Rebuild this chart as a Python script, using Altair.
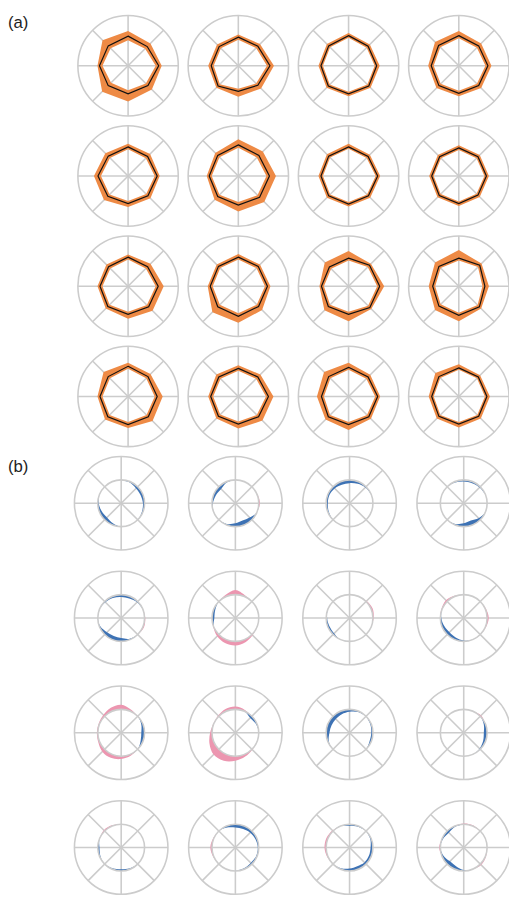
import altair as alt
import numpy as np
import pandas as pd

# ---------------- data ----------------
# (a) 16 radar panels; 8 directions clockwise from north; fraction of outer radius
A_MEAN = [
    [0.59, 0.54, 0.61, 0.56, 0.56, 0.56, 0.57, 0.56],
    [0.57, 0.55, 0.63, 0.55, 0.51, 0.57, 0.54, 0.54],
    [0.60, 0.55, 0.56, 0.57, 0.56, 0.57, 0.55, 0.56],
    [0.60, 0.56, 0.58, 0.56, 0.55, 0.56, 0.55, 0.57],
    [0.58, 0.55, 0.58, 0.56, 0.55, 0.57, 0.60, 0.56],
    [0.62, 0.58, 0.62, 0.60, 0.58, 0.58, 0.58, 0.58],
    [0.58, 0.55, 0.58, 0.56, 0.56, 0.56, 0.55, 0.56],
    [0.56, 0.54, 0.55, 0.54, 0.55, 0.55, 0.54, 0.54],
    [0.58, 0.55, 0.60, 0.58, 0.56, 0.57, 0.56, 0.55],
    [0.58, 0.56, 0.58, 0.57, 0.60, 0.58, 0.56, 0.56],
    [0.56, 0.59, 0.62, 0.60, 0.56, 0.57, 0.54, 0.54],
    [0.56, 0.59, 0.52, 0.58, 0.58, 0.56, 0.52, 0.56],
    [0.60, 0.56, 0.58, 0.57, 0.56, 0.57, 0.56, 0.56],
    [0.56, 0.55, 0.60, 0.57, 0.55, 0.56, 0.55, 0.55],
    [0.58, 0.55, 0.58, 0.57, 0.56, 0.57, 0.54, 0.56],
    [0.57, 0.55, 0.56, 0.56, 0.55, 0.56, 0.54, 0.56],
]
A_LO = [
    [0.51, 0.48, 0.55, 0.50, 0.49, 0.48, 0.51, 0.49],
    [0.52, 0.50, 0.57, 0.50, 0.46, 0.52, 0.49, 0.49],
    [0.56, 0.51, 0.52, 0.53, 0.52, 0.53, 0.51, 0.52],
    [0.55, 0.51, 0.53, 0.51, 0.50, 0.51, 0.50, 0.52],
    [0.53, 0.50, 0.53, 0.51, 0.50, 0.52, 0.54, 0.51],
    [0.56, 0.52, 0.56, 0.54, 0.52, 0.53, 0.53, 0.53],
    [0.54, 0.51, 0.54, 0.52, 0.52, 0.52, 0.51, 0.52],
    [0.52, 0.50, 0.51, 0.50, 0.51, 0.51, 0.50, 0.50],
    [0.53, 0.50, 0.55, 0.53, 0.51, 0.52, 0.51, 0.50],
    [0.53, 0.51, 0.53, 0.52, 0.54, 0.52, 0.51, 0.51],
    [0.51, 0.54, 0.57, 0.55, 0.51, 0.52, 0.49, 0.49],
    [0.51, 0.54, 0.47, 0.53, 0.53, 0.51, 0.47, 0.51],
    [0.55, 0.51, 0.53, 0.52, 0.51, 0.52, 0.51, 0.51],
    [0.51, 0.50, 0.55, 0.52, 0.50, 0.51, 0.50, 0.50],
    [0.53, 0.50, 0.53, 0.52, 0.51, 0.52, 0.49, 0.51],
    [0.53, 0.51, 0.52, 0.52, 0.51, 0.52, 0.50, 0.52],
]
A_HI = [
    [0.69, 0.63, 0.67, 0.67, 0.71, 0.73, 0.61, 0.72],
    [0.62, 0.61, 0.71, 0.64, 0.62, 0.62, 0.60, 0.60],
    [0.65, 0.60, 0.62, 0.62, 0.61, 0.62, 0.60, 0.61],
    [0.69, 0.63, 0.65, 0.63, 0.61, 0.63, 0.61, 0.67],
    [0.64, 0.62, 0.63, 0.63, 0.62, 0.68, 0.68, 0.64],
    [0.73, 0.69, 0.75, 0.73, 0.71, 0.67, 0.63, 0.65],
    [0.64, 0.60, 0.63, 0.61, 0.61, 0.61, 0.60, 0.61],
    [0.61, 0.59, 0.60, 0.59, 0.60, 0.60, 0.59, 0.59],
    [0.63, 0.63, 0.71, 0.69, 0.65, 0.63, 0.61, 0.61],
    [0.64, 0.61, 0.64, 0.67, 0.73, 0.73, 0.61, 0.61],
    [0.70, 0.63, 0.71, 0.64, 0.70, 0.68, 0.58, 0.67],
    [0.72, 0.64, 0.60, 0.63, 0.70, 0.67, 0.60, 0.67],
    [0.67, 0.63, 0.69, 0.69, 0.63, 0.65, 0.61, 0.69],
    [0.62, 0.62, 0.70, 0.68, 0.64, 0.62, 0.60, 0.62],
    [0.67, 0.61, 0.63, 0.63, 0.67, 0.65, 0.63, 0.69],
    [0.64, 0.60, 0.62, 0.62, 0.62, 0.62, 0.60, 0.66],
]
# (b) 16 panels; deviation from the reference circle (0.5 of outer radius)
# at 16 directions clockwise from north (positive = pink, negative = blue)
B_DEV = [
    [0, -0.02, -0.05, -0.05, -0.035, -0.02, 0, 0, 0, -0.035, -0.07, -0.05, -0.02, 0, 0, 0],
    [0, 0, 0, 0.01, 0.025, 0, -0.07, -0.10, -0.07, -0.02, 0, 0, -0.02, -0.05, -0.07, -0.02],
    [-0.07, -0.05, -0.02, 0, 0, 0, 0, 0, 0, 0, 0, -0.02, -0.035, -0.035, -0.05, -0.07],
    [-0.035, -0.035, -0.02, 0, 0, 0, -0.05, -0.10, -0.07, -0.02, 0, 0, 0, 0, 0, -0.02],
    [-0.05, -0.05, -0.02, 0, 0.015, 0.025, 0, -0.02, -0.07, -0.085, -0.07, -0.02, 0, 0, -0.02, -0.035],
    [0.10, 0.03, 0, 0, 0, 0, 0.02, 0.06, 0.09, 0.08, 0.05, 0.01, -0.05, -0.035, 0, 0.04],
    [0, 0, 0.015, 0.035, 0.015, 0, 0, 0, 0, 0, -0.035, -0.035, -0.02, 0, 0, 0],
    [0, 0, 0, 0.015, 0.035, 0.015, 0, 0, -0.02, -0.05, -0.07, -0.05, -0.02, 0.015, 0.035, 0.015],
    [0.10, 0.04, 0, -0.035, -0.07, -0.05, 0, 0.03, 0.06, 0.08, 0.07, 0.03, 0.02, 0.02, 0.04, 0.08],
    [0.06, 0.03, -0.05, -0.02, 0, 0, 0.01, 0.05, 0.10, 0.15, 0.16, 0.10, 0.04, 0.01, 0.02, 0.05],
    [-0.05, -0.02, 0, -0.02, -0.035, -0.035, 0, 0, 0, 0, 0, -0.02, -0.07, -0.085, -0.085, -0.07],
    [0, 0, 0.025, -0.035, -0.07, -0.05, -0.02, 0, 0, 0, 0, 0, 0, 0, 0, 0],
    [0, 0, 0, 0, 0, 0, 0, -0.02, -0.035, -0.02, 0, -0.02, -0.035, 0, 0.025, 0.015],
    [-0.07, -0.07, -0.05, -0.035, -0.02, -0.02, -0.035, -0.02, 0, 0, 0, 0.015, 0.035, 0.015, 0, -0.035],
    [-0.035, -0.02, 0, -0.02, -0.05, -0.05, -0.05, -0.07, -0.05, -0.02, 0, 0.02, 0.035, 0.035, 0.015, 0],
    [0.015, 0.015, 0, 0, 0, 0.015, 0.025, 0, -0.02, -0.07, -0.085, -0.035, 0.025, -0.02, -0.05, -0.02],
]
LABELS = ["(a)", "(b)"]

# ---------------- layout / style ----------------
W, H = 509, 897
RA, RB = 51.0, 47.5
A_X0, A_DX, A_Y0, A_DY = 122.0, 112.0, 51.5, 112.0
B_X0, B_DX, B_Y0, B_DY = 115.0, 116.0, 496.0, 116.6
GRID = "#cccccc"
ORANGE = "#ee8a45"
PINK = "#ec96b0"
BLUE = "#3d72b4"
GW = 1.6


def center(sec, k):
    r, c = divmod(k, 4)
    if sec == "a":
        return A_X0 + A_DX * c, A_Y0 + A_DY * r, RA
    return B_X0 + B_DX * c, B_Y0 + B_DY * r, RB


def polar(cx, cy, R, rad, ang):
    t = np.radians(ang)
    return cx + R * rad * np.sin(t), cy - R * rad * np.cos(t)


circ_rows, inner_rows, spoke_rows = [], [], []
for sec in ["a", "b"]:
    for k in range(16):
        cx, cy, R = center(sec, k)
        circ_rows.append({"x": cx, "y": cy, "s": (2 * R) ** 2})
        if sec == "b":
            inner_rows.append({"x": cx, "y": cy, "s": R ** 2})
        for d in range(8):
            x2, y2 = polar(cx, cy, R, 1.0, 45 * d)
            spoke_rows.append({"x": cx, "y": cy, "x2": x2, "y2": y2})
circ_df = pd.DataFrame(circ_rows)
inner_df = pd.DataFrame(inner_rows)
spoke_df = pd.DataFrame(spoke_rows)

band_rows, mean_rows = [], []
for k in range(16):
    cx, cy, R = center("a", k)
    i = 0
    for j in range(9):
        x, y = polar(cx, cy, R, A_HI[k][j % 8], 45 * j)
        band_rows.append({"p": k, "i": i, "x": x, "y": y}); i += 1
    for j in range(8, -1, -1):
        x, y = polar(cx, cy, R, A_LO[k][j % 8], 45 * j)
        band_rows.append({"p": k, "i": i, "x": x, "y": y}); i += 1
    for j in range(8):
        x, y = polar(cx, cy, R, A_MEAN[k][j], 45 * j)
        mean_rows.append({"p": k, "i": j, "x": x, "y": y})
band_df = pd.DataFrame(band_rows)
mean_df = pd.DataFrame(mean_rows)


def ring(sign):
    rows = []
    for k in range(16):
        cx, cy, R = center("b", k)
        dev = np.array(B_DEV[k], dtype=float)
        part = np.maximum(dev, 0) if sign > 0 else np.minimum(dev, 0)
        if not np.any(part != 0):
            continue
        zeros = np.where(part == 0)[0]
        s = int(zeros[0]) if len(zeros) else 0
        i = 0
        for j in range(17):
            idx = (s + j) % 16
            x, y = polar(cx, cy, R, 0.5 + part[idx], 22.5 * (s + j))
            rows.append({"p": k, "i": i, "x": x, "y": y}); i += 1
        for j in range(16, -1, -1):
            x, y = polar(cx, cy, R, 0.5, 22.5 * (s + j))
            rows.append({"p": k, "i": i, "x": x, "y": y}); i += 1
    return pd.DataFrame(rows)


pink_df = ring(1)
blue_df = ring(-1)
label_df = pd.DataFrame({"t": LABELS, "x": [0, 0], "y": [0, 451]})

xs = alt.Scale(domain=[0, W], nice=False, zero=False)
ys = alt.Scale(domain=[0, H], nice=False, zero=False, reverse=True)
X = alt.X("x:Q", scale=xs, axis=None)
Y = alt.Y("y:Q", scale=ys, axis=None)

circles = alt.Chart(circ_df).mark_point(
    shape="circle", filled=False, opacity=1, stroke=GRID, strokeWidth=GW
).encode(x=X, y=Y, size=alt.Size("s:Q", scale=None, legend=None))
spokes = alt.Chart(spoke_df).mark_rule(stroke=GRID, strokeWidth=GW).encode(
    x=X, y=Y, x2="x2:Q", y2="y2:Q"
)
bands = alt.Chart(band_df).mark_line(
    fill=ORANGE, strokeOpacity=0, interpolate="linear"
).encode(x=X, y=Y, detail="p:N", order="i:Q")
means = alt.Chart(mean_df).mark_line(
    interpolate="linear-closed", stroke="#111111", strokeWidth=1.2
).encode(x=X, y=Y, detail="p:N", order="i:Q")
pinks = alt.Chart(pink_df).mark_line(
    fill=PINK, strokeOpacity=0, interpolate="catmull-rom"
).encode(x=X, y=Y, detail="p:N", order="i:Q")
blues = alt.Chart(blue_df).mark_line(
    fill=BLUE, strokeOpacity=0, interpolate="catmull-rom"
).encode(x=X, y=Y, detail="p:N", order="i:Q")
inners = alt.Chart(inner_df).mark_point(
    shape="circle", filled=False, opacity=1, stroke=GRID, strokeWidth=GW
).encode(x=X, y=Y, size=alt.Size("s:Q", scale=None, legend=None))
labels = alt.Chart(label_df).mark_text(
    align="left", baseline="top", fontSize=17, font="Liberation Sans", color="#222222"
).encode(x=X, y=Y, text="t:N")

chart = alt.layer(
    circles, spokes, bands, means, pinks, blues, inners, labels
).properties(
    width=W, height=H, padding=0, autosize=alt.AutoSizeParams(type="none")
).configure_view(strokeOpacity=0)

chart.save("out.html", embed_options={"renderer": "svg", "actions": False})
